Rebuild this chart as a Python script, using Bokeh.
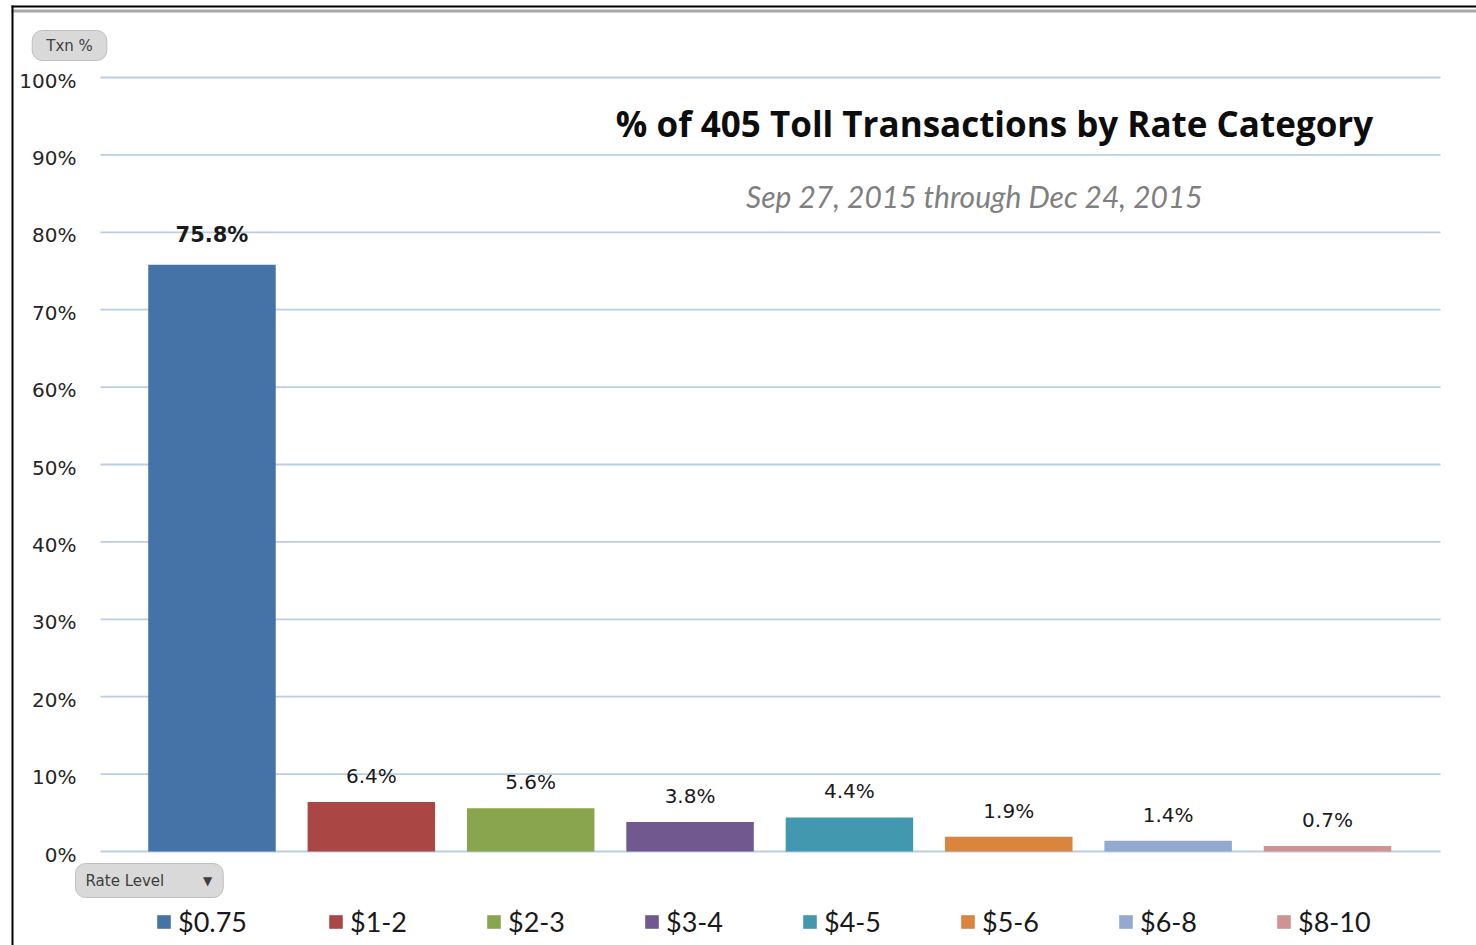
from bokeh.plotting import figure
from bokeh.models import (ColumnDataSource, Range1d, LabelSet, Label, Legend, LegendItem,
                          BoxAnnotation)
from bokeh.core.properties import value
from bokeh.embed import file_html
from bokeh.resources import INLINE

# ---- data ----
categories = ["$0.75", "$1-2", "$2-3", "$3-4", "$4-5", "$5-6", "$6-8", "$8-10"]
shares = [75.8, 6.4, 5.6, 3.8, 4.4, 1.9, 1.4, 0.7]
colors = ["#4572A7", "#AA4643", "#89A54E", "#71588F", "#4198AF", "#DB843D", "#93A9CF", "#D19392"]
y_ticks = [0, 10, 20, 30, 40, 50, 60, 70, 80, 90, 100]
y_tick_labels = [f"{t}%" for t in y_ticks]
title_text = "% of 405 Toll Transactions by Rate Category"
subtitle_text = "Sep 27, 2015 through Dec 24, 2015"
y_field_button = "Txn %"
x_field_button = "Rate Level"

# ---- layout (pixels of the canvas) ----
W, H = 1476, 945
PX0, SLOT = 131.8, 159.36      # left edge of first category slot, slot width
Y0PX, YPX = 851.0, 7.74        # pixel row of 0 %, pixels per percent
GRID_X0, GRID_X1 = 100, 1440   # extent of the gridlines


def sx(x):
    return x


def sy(y):
    return H - y


def dx(px):
    return (px - PX0) / SLOT


xpos = [i + 0.5 for i in range(len(categories))]
src = ColumnDataSource(dict(x=xpos, cat=categories, share=shares, color=colors,
                            lab=[f"{v:.1f}%" for v in shares]))
src_first = ColumnDataSource(dict(x=xpos[:1], share=shares[:1],
                                  lab=[f"{v:.1f}%" for v in shares[:1]]))
src_rest = ColumnDataSource(dict(x=xpos[1:], share=shares[1:],
                                 lab=[f"{v:.1f}%" for v in shares[1:]]))
grid_src = ColumnDataSource(dict(y=y_ticks, lab=y_tick_labels,
                                 x0=[dx(GRID_X0)] * len(y_ticks),
                                 x1=[dx(GRID_X1)] * len(y_ticks)))

p = figure(width=W, height=H,
           x_range=Range1d(-PX0 / SLOT, (W - PX0) / SLOT),
           y_range=Range1d(-(H - Y0PX) / YPX, Y0PX / YPX),
           x_axis_location=None, y_axis_location=None,
           output_backend="svg", toolbar_location=None,
           min_border_left=0, min_border_right=0, min_border_top=0, min_border_bottom=0)
p.background_fill_color = "white"
p.border_fill_color = "white"
p.outline_line_color = None
p.grid.visible = False

# gridlines and tick labels
p.segment(x0="x0", x1="x1", y0="y", y1="y", source=grid_src, line_color="#b9cde5",
          line_width=1.8)
p.text(x="x0", y="y", text="lab", source=grid_src, x_offset=-24, y_offset=3,
       text_align="right", text_baseline="middle", text_font=value("DejaVu Sans"),
       text_font_size="20px", text_color="#262626")

r = p.vbar(x="x", top="share", width=0.80, color="color", line_color=None, source=src)

p.add_layout(LabelSet(x="x", y="share", text="lab", source=src_first, y_offset=30,
                      text_align="center", text_baseline="middle",
                      text_font=value("DejaVu Sans"), text_font_size="21px",
                      text_font_style="bold", text_color="#1a1a1a"))
p.add_layout(LabelSet(x="x", y="share", text="lab", source=src_rest, y_offset=26,
                      text_align="center", text_baseline="middle",
                      text_font=value("DejaVu Sans"), text_font_size="20px",
                      text_color="#1a1a1a"))

p.add_layout(Label(x=sx(994), y=sy(123), x_units="screen", y_units="screen", text=title_text,
                   text_align="center", text_baseline="middle", text_font="Open Sans",
                   text_font_size="35px", text_font_style="bold", text_color="#0d0d0d"))
p.add_layout(Label(x=sx(974), y=sy(195), x_units="screen", y_units="screen", text=subtitle_text,
                   text_align="center", text_baseline="middle", text_font="Lato",
                   text_font_size="30px", text_font_style="italic", text_color="#7f7f7f"))

# pivot field buttons
p.add_layout(Label(x=sx(69), y=sy(45), x_units="screen", y_units="screen", text=y_field_button,
                   text_align="center", text_baseline="middle", text_font="DejaVu Sans",
                   text_font_size="15px", text_color="#404040",
                   background_fill_color="#d9d9d9", border_line_color="#bfbfbf",
                   border_radius=10, padding=dict(left=14, right=14, top=6, bottom=6)))
p.add_layout(Label(x=sx(75), y=sy(880), x_units="screen", y_units="screen", text=x_field_button,
                   text_align="left", text_baseline="middle", text_font="DejaVu Sans",
                   text_font_size="15px", text_color="#404040",
                   background_fill_color="#d9d9d9", border_line_color="#bfbfbf",
                   border_radius=10, padding=dict(left=10, right=59, top=8, bottom=8)))
p.add_layout(Label(x=sx(207), y=sy(880), x_units="screen", y_units="screen", text="▼",
                   text_align="center", text_baseline="middle", text_font="DejaVu Sans",
                   text_font_size="12px", text_color="#404040"))

# sheet frame lines
def hbox(x0, x1, y0, y1, color):
    return BoxAnnotation(left=sx(x0), right=sx(x1), top=sy(y0), bottom=sy(y1),
                         left_units="screen", right_units="screen", top_units="screen",
                         bottom_units="screen", fill_color=color, fill_alpha=1,
                         line_color=None, level="overlay")

p.add_layout(hbox(11, W, 5, 7, "black"))
p.add_layout(hbox(11, W, 9, 12, "#a6a6a6"))
p.add_layout(hbox(11, 13, 5, H, "black"))

# legends
def make_legend(idx, x_ref):
    items = [LegendItem(label=categories[i], renderers=[r], index=i) for i in idx]
    return Legend(items=items, orientation="horizontal",
                  location=(sx(x_ref) - 2, sy(938)),
                  glyph_width=17, glyph_height=17, label_standoff=6, label_width=135,
                  label_height=30, spacing=0, padding=0, margin=0, border_line_color=None,
                  background_fill_alpha=0, label_text_font="Lato",
                  label_text_font_size="27px", label_text_color="#1a1a1a")

p.add_layout(make_legend([0], 157))
p.add_layout(make_legend(list(range(1, 8)), 329))

open("out.html", "w").write(file_html(p, INLINE))
